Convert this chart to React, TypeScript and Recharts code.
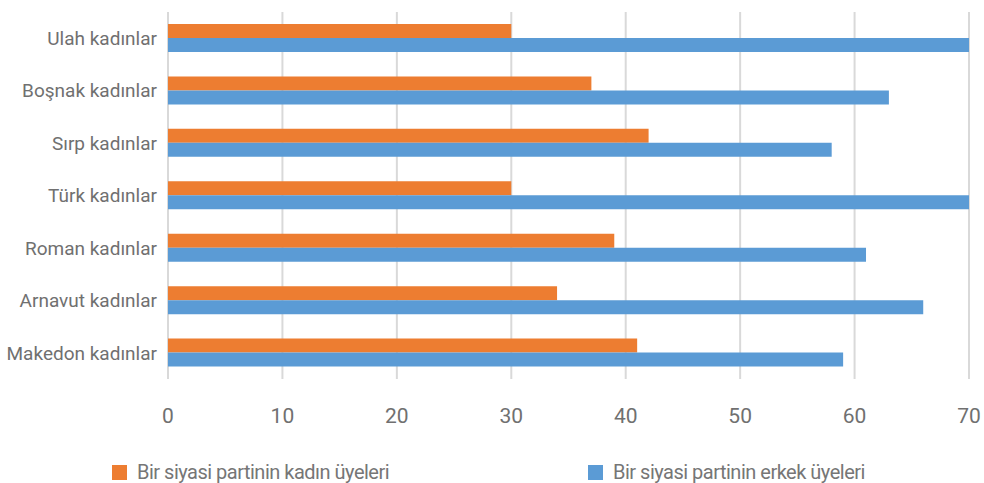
import { BarChart, Bar, XAxis, YAxis, CartesianGrid, Legend } from 'recharts';

const categories = [
  'Ulah kadınlar',
  'Boşnak kadınlar',
  'Sırp kadınlar',
  'Türk kadınlar',
  'Roman kadınlar',
  'Arnavut kadınlar',
  'Makedon kadınlar',
];
const womenMembers = [30, 37, 42, 30, 39, 34, 41];
const menMembers = [70, 63, 58, 70, 61, 66, 59];
const xTicks = [0, 10, 20, 30, 40, 50, 60, 70];

const WOMEN_LABEL = 'Bir siyasi partinin kadın üyeleri';
const MEN_LABEL = 'Bir siyasi partinin erkek üyeleri';
const WOMEN_COLOR = '#ED7D31';
const MEN_COLOR = '#5B9BD5';

const data = categories.map((name, i) => ({
  name,
  women: womenMembers[i],
  men: menMembers[i],
}));

const legendItems = [
  { label: WOMEN_LABEL, color: WOMEN_COLOR, left: 112 },
  { label: MEN_LABEL, color: MEN_COLOR, left: 588 },
];

function LegendContent() {
  return (
    <div style={{ position: 'relative', width: 984, height: 44 }}>
      {legendItems.map((item) => (
        <div
          key={item.label}
          style={{
            position: 'absolute',
            left: item.left,
            top: 26,
            display: 'flex',
            alignItems: 'center',
            whiteSpace: 'nowrap',
          }}
        >
          <span style={{ width: 15, height: 15, background: item.color, display: 'inline-block' }} />
          <span
            style={{
              marginLeft: 10,
              fontFamily: '"Liberation Sans Narrow", "Roboto", sans-serif',
              fontSize: 20,
              letterSpacing: -0.5,
              color: '#767676',
              lineHeight: '15px',
            }}
          >
            {item.label}
          </span>
        </div>
      ))}
    </div>
  );
}

export default function App() {
  return (
    <div style={{ position: 'absolute', left: 0, top: 0, background: '#fff' }}>
      <BarChart
        width={984}
        height={483}
        data={data}
        layout="vertical"
        margin={{ top: 12, right: 15, bottom: 0, left: 0 }}
        barSize={14}
        barGap={0}
      >
        <CartesianGrid horizontal={false} stroke="#d9d9d9" strokeWidth={2} />
        <XAxis
          type="number"
          domain={[0, 70]}
          ticks={xTicks}
          axisLine={false}
          tickLine={false}
          tickSize={0}
          tickMargin={29}
          height={60}
          tick={{ fontFamily: 'Roboto, sans-serif', fontSize: 21, fill: '#707070' }}
        />
        <YAxis
          type="category"
          dataKey="name"
          width={168}
          axisLine={false}
          tickLine={false}
          tickSize={0}
          tickMargin={11}
          tick={{ fontFamily: 'Roboto, sans-serif', fontSize: 19, fill: '#707070' }}
        />
        <Legend verticalAlign="bottom" height={44} content={<LegendContent />} wrapperStyle={{ left: 0, bottom: 0 }} />
        <Bar dataKey="women" name={WOMEN_LABEL} fill={WOMEN_COLOR} isAnimationActive={false} />
        <Bar dataKey="men" name={MEN_LABEL} fill={MEN_COLOR} isAnimationActive={false} />
      </BarChart>
    </div>
  );
}
